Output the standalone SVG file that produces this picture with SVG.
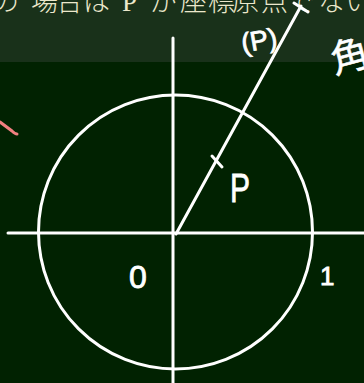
<svg xmlns="http://www.w3.org/2000/svg" width="364" height="383" viewBox="0 0 364 383">
  <style>
    .ln { stroke: #ffffff; stroke-width: 3; fill: none; stroke-linecap: round; }
    .hw { fill: #ffffff; stroke: #ffffff; stroke-width: 0.8; font-family: "Liberation Sans", "DejaVu Sans", sans-serif; }
    .cap { fill: #ece8cc; font-family: "Noto Sans CJK JP", "Noto Sans CJK SC", sans-serif; font-weight: 300; font-size: 27px; }
  </style>
  <rect x="0" y="0" width="364" height="383" fill="#012201"/>
  <rect x="0" y="0" width="364" height="62" fill="#19311a"/>
  <g id="caption">
    <text class="cap" y="11" x="-8 31 56 83">の場合は</text>
    <text y="11" x="122" fill="#ece8cc" font-family="Liberation Serif, serif" font-size="27">P</text>
    <text class="cap" y="11" x="150 180 208 232 261 288 318 345">が座標原点でない</text>
  </g>
  <g id="axes">
    <line class="ln" x1="8" y1="233" x2="364" y2="233"/>
    <line class="ln" x1="173" y1="38" x2="173" y2="383"/>
  </g>
  <g id="circle">
    <circle class="ln" cx="175.5" cy="232" r="137"/>
  </g>
  <g id="connectors">
    <line class="ln" x1="176" y1="234" x2="301" y2="6"/>
    <line class="ln" x1="212" y1="156" x2="222" y2="167"/>
    <line class="ln" x1="294" y1="3" x2="308" y2="12"/>
  </g>
  <g id="labels">
    <text class="hw" font-size="40" transform="translate(230 202) scale(0.75 1)">P</text>
    <text class="hw" x="129" y="288" font-size="32">0</text>
    <text class="hw" x="320" y="285" font-size="26">1</text>
    <text class="hw" x="241" y="49" font-size="27" transform="rotate(-10 262 40)">(P)</text>
    <text x="329" y="70" fill="#ffffff" stroke="#ffffff" stroke-width="0.6" font-family="Noto Sans CJK JP, sans-serif" font-size="38" transform="rotate(-15 347 50)">角</text>
  </g>
  <g id="mark">
    <path d="M0 122 L12 131 Q15 134 17 134" stroke="#f08080" stroke-width="3" fill="none" stroke-linecap="round"/>
  </g>
</svg>
